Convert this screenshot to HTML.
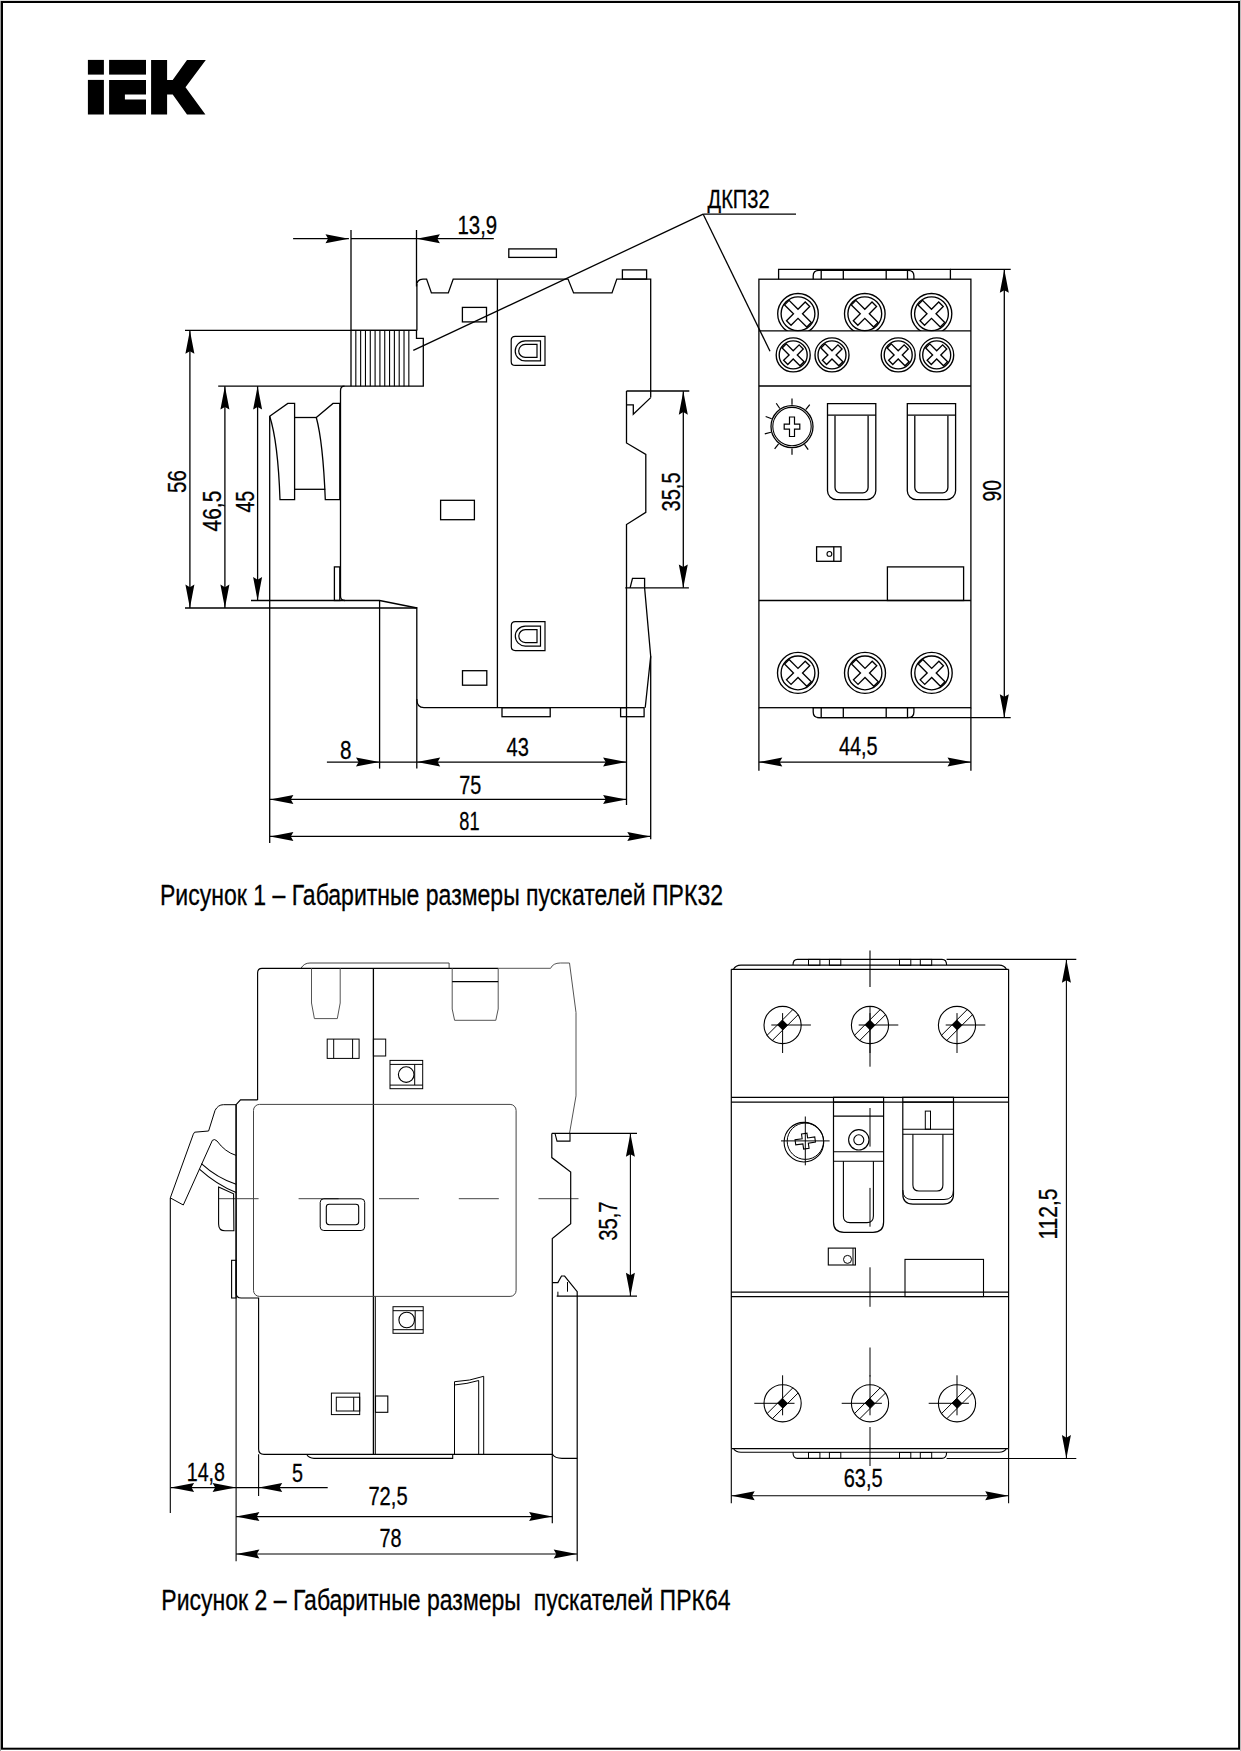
<!DOCTYPE html>
<html><head><meta charset="utf-8"><style>
html,body{margin:0;padding:0;background:#fff;}
svg{display:block;}
text{font-family:"Liberation Sans",sans-serif;fill:#000;stroke:#000;stroke-width:0.3px;}
</style></head><body>
<svg width="1241" height="1751" viewBox="0 0 1241 1751">
<defs>
<clipPath id="c1"><rect x="700" y="260" width="300" height="70.9"/></clipPath>
</defs>
<g stroke="#000" stroke-width="1.3" fill="none" stroke-linejoin="miter" stroke-linecap="butt">
<rect x="2" y="2" width="1237.1" height="1746.7" stroke-width="2"/>
<line x1="0.5" y1="0" x2="0.5" y2="1751" stroke="#999" stroke-width="1"/>
<line x1="0" y1="0.5" x2="1241" y2="0.5" stroke="#ddd" stroke-width="1"/>
<line x1="1240.5" y1="0" x2="1240.5" y2="1751" stroke="#bbb" stroke-width="1"/>
<g fill="#000" stroke="none">
<rect x="87.9" y="59.9" width="16" height="14.7"/>
<rect x="87.9" y="79.9" width="16" height="34.6"/>
<rect x="109.1" y="59.9" width="36.9" height="14.7"/>
<path d="M109.1,79.9 L146,79.9 L146,94.6 L124.9,94.6 L124.9,99.6 L146,99.6 L146,114.5 L109.1,114.5 Z"/>
<path d="M151.1,59.9 L167.1,59.9 L167.1,79.9 L172.7,79.9 L187,59.9 L205.8,59.9 L185.5,87.2 L205.4,114.5 L187,114.5 L172.7,94.6 L167.1,94.6 L167.1,114.5 L151.1,114.5 Z"/>
</g>
<line x1="293.1" y1="238.7" x2="348.9" y2="238.7"/>
<path d="M348.9,238.7 L325.5,243.2 L328.1,238.7 L325.5,234.2 Z" fill="#000" stroke="none"/>
<line x1="351" y1="238.7" x2="416.5" y2="238.7"/>
<line x1="416.5" y1="238.7" x2="493.8" y2="238.7"/>
<path d="M416.5,238.7 L439.9,234.2 L437.3,238.7 L439.9,243.2 Z" fill="#000" stroke="none"/>
<line x1="351" y1="230" x2="351" y2="330.4"/>
<text x="457.5" y="234.4" font-size="25.8" textLength="39.7" lengthAdjust="spacingAndGlyphs">13,9</text>
<path d="M416.5,230 L416.5,286.5 Q416.5,279.1 423,279.1 L426.6,279.1 L431.4,292.9 L448.3,292.9 L453.2,279.1 L568,279.1 L573.6,292.9 L612,292.9 L616.8,279.1 L650.7,279.1 L650.7,397.6" fill="none"/>
<rect x="622.4" y="269.9" width="24.2" height="9.2" fill="none"/>
<rect x="508.8" y="248.9" width="47.6" height="8.5" fill="none"/>
<rect x="462.4" y="307.4" width="24.1" height="14.5" fill="none"/>
<line x1="497.4" y1="279.1" x2="497.4" y2="707.7"/>
<path d="M515.2,336.4 L545,336.4 L545,365.4 L515.2,365.4 Q511.2,365.4 511.2,361.4 L511.2,340.4 Q511.2,336.4 515.2,336.4 Z" fill="none" stroke-width="1.2"/>
<path d="M540.5,340.9 L540.5,360.9 L525.2,360.9 L525.2,360.9 A10,10 0 0 1 525.2,340.9 Z" fill="none" stroke-width="1.2"/>
<path d="M537,344.4 L537,357.4 L525.2,357.4 A6.5,6.5 0 0 1 525.2,344.4 Z" fill="none" stroke-width="1.2"/>
<path d="M515.3,621.6 L545,621.6 L545,650.6 L515.3,650.6 Q511.3,650.6 511.3,646.6 L511.3,625.6 Q511.3,621.6 515.3,621.6 Z" fill="none" stroke-width="1.2"/>
<path d="M540.5,626.1 L540.5,646.1 L525.3,646.1 L525.3,646.1 A10,10 0 0 1 525.3,626.1 Z" fill="none" stroke-width="1.2"/>
<path d="M537,629.6 L537,642.6 L525.3,642.6 A6.5,6.5 0 0 1 525.3,629.6 Z" fill="none" stroke-width="1.2"/>
<rect x="440.6" y="500.3" width="33.8" height="19.4" fill="none"/>
<rect x="462.5" y="670.7" width="24.3" height="14.5" fill="none"/>
<line x1="626.5" y1="391" x2="689.3" y2="391"/>
<path d="M626.5,391 L626.5,443 L645.8,454.4 L645.8,512.4 L626.5,524.5 L626.5,804.9" fill="none"/>
<path d="M626.5,404.8 L633.3,404.8 L633.3,414.3 L650.7,397.6" fill="none"/>
<path d="M630.1,587.8 L632.5,578.4 L644.6,578.4 L644.6,587.8" fill="none"/>
<line x1="625.3" y1="587.8" x2="688.9" y2="587.8"/>
<path d="M644.6,587.8 L650.7,656.2 L645.2,707.7" fill="none"/>
<line x1="650.7" y1="656.2" x2="650.7" y2="839.3"/>
<line x1="683.3" y1="391.3" x2="683.3" y2="587.8"/>
<path d="M683.3,391.3 L687.8,414.7 L683.3,412.1 L678.8,414.7 Z" fill="#000" stroke="none"/>
<path d="M683.3,587.8 L678.8,564.4 L683.3,567 L687.8,564.4 Z" fill="#000" stroke="none"/>
<text transform="translate(679.8,511.5) rotate(-90)" x="0" y="0" font-size="25.8" textLength="39.1" lengthAdjust="spacingAndGlyphs">35,5</text>
<path d="M351,330.4 L416.5,330.4 L416.5,338.3 L423.3,338.3 L423.3,386.2 L351,386.2" fill="none"/>
<line x1="355.82" y1="330.4" x2="355.82" y2="386.2" stroke-width="1.1"/>
<line x1="360.64" y1="330.4" x2="360.64" y2="386.2" stroke-width="1.1"/>
<line x1="365.46" y1="330.4" x2="365.46" y2="386.2" stroke-width="1.1"/>
<line x1="370.28" y1="330.4" x2="370.28" y2="386.2" stroke-width="1.1"/>
<line x1="375.1" y1="330.4" x2="375.1" y2="386.2" stroke-width="1.1"/>
<line x1="379.92" y1="330.4" x2="379.92" y2="386.2" stroke-width="1.1"/>
<line x1="384.74" y1="330.4" x2="384.74" y2="386.2" stroke-width="1.1"/>
<line x1="389.56" y1="330.4" x2="389.56" y2="386.2" stroke-width="1.1"/>
<line x1="394.38" y1="330.4" x2="394.38" y2="386.2" stroke-width="1.1"/>
<line x1="399.2" y1="330.4" x2="399.2" y2="386.2" stroke-width="1.1"/>
<line x1="404.02" y1="330.4" x2="404.02" y2="386.2" stroke-width="1.1"/>
<line x1="408.84" y1="330.4" x2="408.84" y2="386.2" stroke-width="1.1"/>
<line x1="185" y1="330.4" x2="416.5" y2="330.4"/>
<line x1="351" y1="330.4" x2="351" y2="386.2"/>
<line x1="218.2" y1="386.2" x2="351" y2="386.2"/>
<path d="M344.5,386.2 Q340.5,386.2 340.5,391 L340.5,596 Q340.5,600.5 345,600.5" fill="none"/>
<path d="M269.7,416.3 L287.8,403.4 L294.6,403.4 L294.6,499.7 L280,499.7 Q278,442 269.7,416.3 Z" fill="none"/>
<line x1="294.6" y1="417.5" x2="316.3" y2="417.5"/>
<line x1="294.6" y1="489.3" x2="325.3" y2="489.3"/>
<path d="M316.3,417.5 L333,403.4 L339.8,403.4 L339.8,499.7 L325.3,499.7 Q323,442 316.3,417.5 Z" fill="none"/>
<rect x="334.4" y="566.9" width="5.4" height="33.6" fill="none"/>
<line x1="269.7" y1="416.3" x2="269.7" y2="843"/>
<path d="M251,600.5 L379.6,600.5 L417.1,608" fill="none"/>
<line x1="185" y1="608" x2="417.1" y2="608"/>
<line x1="379.6" y1="600.5" x2="379.6" y2="768.6"/>
<path d="M416.8,607.3 L416.8,699 Q416.8,707.7 424,707.7 L626.5,707.7" fill="none"/>
<line x1="416.8" y1="699" x2="416.8" y2="768.6"/>
<rect x="502" y="707.7" width="48.2" height="9" fill="none"/>
<rect x="620.6" y="707.7" width="23.5" height="9" fill="none"/>
<line x1="189.9" y1="330.4" x2="189.9" y2="608"/>
<path d="M189.9,330.4 L194.4,353.8 L189.9,351.2 L185.4,353.8 Z" fill="#000" stroke="none"/>
<path d="M189.9,608 L185.4,584.6 L189.9,587.2 L194.4,584.6 Z" fill="#000" stroke="none"/>
<text transform="translate(186.2,492.9) rotate(-90)" x="0" y="0" font-size="25.8" textLength="22.8" lengthAdjust="spacingAndGlyphs">56</text>
<line x1="224.9" y1="386.2" x2="224.9" y2="608"/>
<path d="M224.9,386.2 L229.4,409.6 L224.9,407 L220.4,409.6 Z" fill="#000" stroke="none"/>
<path d="M224.9,608 L220.4,584.6 L224.9,587.2 L229.4,584.6 Z" fill="#000" stroke="none"/>
<text transform="translate(220.9,531.5) rotate(-90)" x="0" y="0" font-size="25.8" textLength="40.8" lengthAdjust="spacingAndGlyphs">46,5</text>
<line x1="257.6" y1="386.2" x2="257.6" y2="600.5"/>
<path d="M257.6,386.2 L262.1,409.6 L257.6,407 L253.1,409.6 Z" fill="#000" stroke="none"/>
<path d="M257.6,600.5 L253.1,577.1 L257.6,579.7 L262.1,577.1 Z" fill="#000" stroke="none"/>
<text transform="translate(253.5,512.5) rotate(-90)" x="0" y="0" font-size="25.8" textLength="21.7" lengthAdjust="spacingAndGlyphs">45</text>
<line x1="326.9" y1="762.1" x2="379.4" y2="762.1"/>
<path d="M379.4,762.1 L356,766.6 L358.6,762.1 L356,757.6 Z" fill="#000" stroke="none"/>
<line x1="379.4" y1="762.1" x2="416.8" y2="762.1"/>
<text x="340.1" y="758.6" font-size="25.8" textLength="11.5" lengthAdjust="spacingAndGlyphs">8</text>
<line x1="416.8" y1="762.1" x2="626.5" y2="762.1"/>
<path d="M416.8,762.1 L440.2,757.6 L437.6,762.1 L440.2,766.6 Z" fill="#000" stroke="none"/>
<path d="M626.5,762.1 L603.1,766.6 L605.7,762.1 L603.1,757.6 Z" fill="#000" stroke="none"/>
<text x="506.6" y="755.9" font-size="25.8" textLength="22.3" lengthAdjust="spacingAndGlyphs">43</text>
<line x1="270" y1="799.4" x2="626.5" y2="799.4"/>
<path d="M270,799.4 L293.4,794.9 L290.8,799.4 L293.4,803.9 Z" fill="#000" stroke="none"/>
<path d="M626.5,799.4 L603.1,803.9 L605.7,799.4 L603.1,794.9 Z" fill="#000" stroke="none"/>
<text x="459.3" y="793.6" font-size="25.8" textLength="22" lengthAdjust="spacingAndGlyphs">75</text>
<line x1="270" y1="836.4" x2="650.7" y2="836.4"/>
<path d="M270,836.4 L293.4,831.9 L290.8,836.4 L293.4,840.9 Z" fill="#000" stroke="none"/>
<path d="M650.7,836.4 L627.3,840.9 L629.9,836.4 L627.3,831.9 Z" fill="#000" stroke="none"/>
<text x="459.3" y="829.7" font-size="25.8" textLength="20.2" lengthAdjust="spacingAndGlyphs">81</text>
<line x1="413.3" y1="350.4" x2="703.2" y2="214.2"/>
<line x1="703.2" y1="214.2" x2="770" y2="351.2"/>
<line x1="703.2" y1="214.2" x2="796" y2="214.2"/>
<text x="707.6" y="208.4" font-size="25.8" textLength="62" lengthAdjust="spacingAndGlyphs">ДКП32</text>
<rect x="758.9" y="279.2" width="212" height="428.5" fill="none"/>
<line x1="758.9" y1="330.9" x2="970.9" y2="330.9"/>
<line x1="758.9" y1="386" x2="970.9" y2="386"/>
<line x1="758.9" y1="600.5" x2="970.9" y2="600.5"/>
<path d="M778.6,279.2 L778.6,269.4 L950.4,269.4 L950.4,279.2" fill="none"/>
<path d="M813.2,279.2 L813.2,276 Q813.2,270.3 819,270.3 L908,270.3 Q913.9,270.3 913.9,276 L913.9,279.2" fill="none"/>
<line x1="821.2" y1="269.4" x2="821.2" y2="279.2"/>
<line x1="843.3" y1="269.4" x2="843.3" y2="279.2"/>
<line x1="886.2" y1="269.4" x2="886.2" y2="279.2"/>
<line x1="907.5" y1="269.4" x2="907.5" y2="279.2"/>
<line x1="950.4" y1="269.4" x2="1010.7" y2="269.4"/>
<path d="M813.2,707.7 L813.2,712 Q813.2,717.6 819,717.6 L908,717.6 Q913.9,717.6 913.9,712 L913.9,707.7" fill="none"/>
<line x1="821.2" y1="707.7" x2="821.2" y2="717.6"/>
<line x1="843.3" y1="707.7" x2="843.3" y2="717.6"/>
<line x1="886.2" y1="707.7" x2="886.2" y2="717.6"/>
<line x1="907.5" y1="707.7" x2="907.5" y2="717.6"/>
<line x1="812.5" y1="707.7" x2="913.6" y2="707.7"/>
<line x1="817" y1="717.6" x2="1010.7" y2="717.6"/>
<line x1="758.9" y1="707.7" x2="758.9" y2="770.8"/>
<line x1="970.9" y1="707.7" x2="970.9" y2="770.8"/>
<circle cx="798" cy="313.8" r="20.3" fill="none" stroke-width="1.35" clip-path="url(#c1)"/>
<circle cx="798" cy="313.8" r="16.9" fill="none" stroke-width="1.35"/>
<path d="M811.29,322.57 L806.77,327.09 L798,318.33 L791.03,325.29 L786.51,320.77 L793.47,313.8 L784.56,304.89 L789.09,300.36 L798,309.27 L805.21,302.06 L809.74,306.59 L802.53,313.8 Z" fill="none" stroke-width="1.35"/>
<circle cx="864.8" cy="313.8" r="20.3" fill="none" stroke-width="1.35" clip-path="url(#c1)"/>
<circle cx="864.8" cy="313.8" r="16.9" fill="none" stroke-width="1.35"/>
<path d="M878.09,322.57 L873.57,327.09 L864.8,318.33 L857.83,325.29 L853.31,320.77 L860.27,313.8 L851.36,304.89 L855.89,300.36 L864.8,309.27 L872.01,302.06 L876.54,306.59 L869.33,313.8 Z" fill="none" stroke-width="1.35"/>
<circle cx="931.5" cy="313.8" r="20.3" fill="none" stroke-width="1.35" clip-path="url(#c1)"/>
<circle cx="931.5" cy="313.8" r="16.9" fill="none" stroke-width="1.35"/>
<path d="M944.79,322.57 L940.27,327.09 L931.5,318.33 L924.53,325.29 L920.01,320.77 L926.97,313.8 L918.06,304.89 L922.59,300.36 L931.5,309.27 L938.71,302.06 L943.24,306.59 L936.03,313.8 Z" fill="none" stroke-width="1.35"/>
<circle cx="793.2" cy="354.9" r="17" fill="none" stroke-width="1.35"/>
<circle cx="793.2" cy="354.9" r="14" fill="none" stroke-width="1.35"/>
<path d="M804.09,361.69 L799.99,365.79 L793.2,359 L787.76,364.45 L783.65,360.34 L789.1,354.9 L782.17,347.97 L786.27,343.87 L793.2,350.8 L799.14,344.86 L803.24,348.96 L797.3,354.9 Z" fill="none" stroke-width="1.35"/>
<circle cx="832" cy="354.9" r="17" fill="none" stroke-width="1.35"/>
<circle cx="832" cy="354.9" r="14" fill="none" stroke-width="1.35"/>
<path d="M842.89,361.69 L838.79,365.79 L832,359 L826.56,364.45 L822.45,360.34 L827.9,354.9 L820.97,347.97 L825.07,343.87 L832,350.8 L837.94,344.86 L842.04,348.96 L836.1,354.9 Z" fill="none" stroke-width="1.35"/>
<circle cx="898.2" cy="354.9" r="17" fill="none" stroke-width="1.35"/>
<circle cx="898.2" cy="354.9" r="14" fill="none" stroke-width="1.35"/>
<path d="M909.09,361.69 L904.99,365.79 L898.2,359 L892.76,364.45 L888.65,360.34 L894.1,354.9 L887.17,347.97 L891.27,343.87 L898.2,350.8 L904.14,344.86 L908.24,348.96 L902.3,354.9 Z" fill="none" stroke-width="1.35"/>
<circle cx="936.7" cy="354.9" r="17" fill="none" stroke-width="1.35"/>
<circle cx="936.7" cy="354.9" r="14" fill="none" stroke-width="1.35"/>
<path d="M947.59,361.69 L943.49,365.79 L936.7,359 L931.26,364.45 L927.15,360.34 L932.6,354.9 L925.67,347.97 L929.77,343.87 L936.7,350.8 L942.64,344.86 L946.74,348.96 L940.8,354.9 Z" fill="none" stroke-width="1.35"/>
<circle cx="798" cy="672.9" r="20.5" fill="none" stroke-width="1.35"/>
<circle cx="798" cy="672.9" r="16.9" fill="none" stroke-width="1.35"/>
<path d="M811.29,681.67 L806.77,686.19 L798,677.43 L791.03,684.39 L786.51,679.87 L793.47,672.9 L784.56,663.99 L789.09,659.46 L798,668.37 L805.21,661.16 L809.74,665.69 L802.53,672.9 Z" fill="none" stroke-width="1.35"/>
<circle cx="865" cy="672.9" r="20.5" fill="none" stroke-width="1.35"/>
<circle cx="865" cy="672.9" r="16.9" fill="none" stroke-width="1.35"/>
<path d="M878.29,681.67 L873.77,686.19 L865,677.43 L858.03,684.39 L853.51,679.87 L860.47,672.9 L851.56,663.99 L856.09,659.46 L865,668.37 L872.21,661.16 L876.74,665.69 L869.53,672.9 Z" fill="none" stroke-width="1.35"/>
<circle cx="931.7" cy="672.9" r="20.5" fill="none" stroke-width="1.35"/>
<circle cx="931.7" cy="672.9" r="16.9" fill="none" stroke-width="1.35"/>
<path d="M944.99,681.67 L940.47,686.19 L931.7,677.43 L924.73,684.39 L920.21,679.87 L927.17,672.9 L918.26,663.99 L922.79,659.46 L931.7,668.37 L938.91,661.16 L943.44,665.69 L936.23,672.9 Z" fill="none" stroke-width="1.35"/>
<circle cx="792" cy="426.6" r="21" fill="none" stroke-width="1.3"/>
<circle cx="792" cy="426.6" r="19.2" fill="none" stroke-width="1.1"/>
<path d="M789.5,417 L794.5,417 L794.5,424.2 L799.8,424.2 L799.8,429.2 L794.5,429.2 L794.5,436.5 L789.5,436.5 L789.5,429.2 L784.2,429.2 L784.2,424.2 L789.5,424.2 Z" fill="none" stroke-width="1.2"/>
<line x1="792" y1="404.8" x2="792" y2="398.4" stroke-width="1.2"/>
<line x1="805.72" y1="409.66" x2="809.75" y2="404.68" stroke-width="1.2"/>
<line x1="779.81" y1="408.53" x2="776.23" y2="403.22" stroke-width="1.2"/>
<line x1="771.65" y1="418.79" x2="765.67" y2="416.49" stroke-width="1.2"/>
<line x1="770.94" y1="432.24" x2="764.76" y2="433.9" stroke-width="1.2"/>
<line x1="778.58" y1="443.78" x2="774.64" y2="448.82" stroke-width="1.2"/>
<line x1="792" y1="448.4" x2="792" y2="454.8" stroke-width="1.2"/>
<line x1="804.5" y1="444.46" x2="808.17" y2="449.7" stroke-width="1.2"/>
<path d="M827.5,403.7 L875.8,403.7 L875.8,490.7 A9,9 0 0 1 866.8,499.7 L836.5,499.7 A9,9 0 0 1 827.5,490.7 Z" fill="none"/>
<line x1="827.5" y1="415.2" x2="875.8" y2="415.2"/>
<path d="M835,415.8 L835,487.6 A5.3,5.3 0 0 0 840.3,492.9 L862.8,492.9 A5.3,5.3 0 0 0 868.1,487.6 L868.1,415.8" fill="none"/>
<path d="M907.3,403.7 L955.6,403.7 L955.6,490.7 A9,9 0 0 1 946.6,499.7 L916.3,499.7 A9,9 0 0 1 907.3,490.7 Z" fill="none"/>
<line x1="907.3" y1="415.2" x2="955.6" y2="415.2"/>
<path d="M914.8,415.8 L914.8,487.6 A5.3,5.3 0 0 0 920.1,492.9 L942.6,492.9 A5.3,5.3 0 0 0 947.9,487.6 L947.9,415.8" fill="none"/>
<rect x="816.6" y="546.8" width="24.4" height="14.5" fill="none"/>
<line x1="833.8" y1="546.8" x2="833.8" y2="561.3"/>
<circle cx="829.4" cy="553.9" r="2.4" fill="none" stroke-width="1.1"/>
<rect x="887.4" y="566.9" width="76.2" height="33.6" fill="none"/>
<line x1="758.9" y1="762.1" x2="970.9" y2="762.1"/>
<path d="M758.9,762.1 L782.3,757.6 L779.7,762.1 L782.3,766.6 Z" fill="#000" stroke="none"/>
<path d="M970.9,762.1 L947.5,766.6 L950.1,762.1 L947.5,757.6 Z" fill="#000" stroke="none"/>
<text x="838.9" y="754.9" font-size="25.8" textLength="38.7" lengthAdjust="spacingAndGlyphs">44,5</text>
<line x1="1004.3" y1="269.4" x2="1004.3" y2="717.6"/>
<path d="M1004.3,269.4 L1008.8,292.8 L1004.3,290.2 L999.8,292.8 Z" fill="#000" stroke="none"/>
<path d="M1004.3,717.6 L999.8,694.2 L1004.3,696.8 L1008.8,694.2 Z" fill="#000" stroke="none"/>
<text transform="translate(1000.8,501.5) rotate(-90)" x="0" y="0" font-size="25.8" textLength="21.4" lengthAdjust="spacingAndGlyphs">90</text>
<text x="160" y="905.3" font-size="29.5" textLength="563" lengthAdjust="spacingAndGlyphs">Рисунок 1 – Габаритные размеры пускателей ПРК32</text>
<text x="161.3" y="1610" font-size="29.5" textLength="569.2" lengthAdjust="spacingAndGlyphs">Рисунок 2 – Габаритные размеры&#160; пускателей ПРК64</text>
<g stroke="#444">
<path d="M301,968.3 Q304,963 310,963 L449.1,963 L449.1,968.3" fill="none" stroke-width="1"/>
</g>
<path d="M257.6,1099.9 L257.6,973 Q257.6,968.3 262,968.3 L498.2,968.3" fill="none" stroke-width="1.15"/>
<g stroke="#555">
<path d="M498.2,968.3 L550.6,968.3 Q553,963 560.3,963 L569.5,963 L576,1012.5 L576,1095.9 L569.5,1133.4" fill="none" stroke-width="1"/>
</g>
<path d="M257.6,1099.9 L240.5,1099.9 L236.1,1104.7 L236.1,1293 Q236.1,1298 241.2,1298 L258.6,1298 L258.6,1449 Q258.6,1454.3 264,1454.3 L552.5,1454.3" fill="none" stroke-width="1.15"/>
<g stroke="#555">
<path d="M311.5,968.3 L311.5,1003 L314.4,1018.6 L337.3,1018.6 L340.2,1003 L340.2,968.3" fill="none" stroke-width="1"/>
</g>
<g stroke="#555">
<path d="M452.2,968.3 L452.2,1009 L454.6,1020.3 L495.8,1020.3 L498.2,1009 L498.2,968.3" fill="none" stroke-width="1"/>
</g>
<line x1="452.2" y1="981.6" x2="498.2" y2="981.6" stroke-width="1.1"/>
<line x1="373.4" y1="968.3" x2="373.4" y2="1454.3" stroke-width="1.3"/>
<line x1="375.3" y1="1296.4" x2="375.3" y2="1454.3" stroke-width="1"/>
<rect x="327.2" y="1039.1" width="31.9" height="19.3" stroke-width="1" fill="none"/>
<line x1="333.7" y1="1039.1" x2="333.7" y2="1058.4" stroke-width="1"/>
<line x1="352.6" y1="1039.1" x2="352.6" y2="1058.4" stroke-width="1"/>
<rect x="373.4" y="1039.1" width="12.3" height="16.9" stroke-width="1" fill="none"/>
<rect x="390" y="1060.4" width="32.7" height="28.3" stroke-width="1" fill="none"/>
<line x1="390" y1="1064.4" x2="422.7" y2="1064.4" stroke-width="1"/>
<line x1="390" y1="1085.1" x2="422.7" y2="1085.1" stroke-width="1"/>
<line x1="414.7" y1="1064.4" x2="414.7" y2="1085.1" stroke-width="1"/>
<circle cx="406.2" cy="1074.55" r="7.8" fill="none" stroke-width="1.1"/>
<rect x="393" y="1306.7" width="30.2" height="26.6" stroke-width="1" fill="none"/>
<line x1="393" y1="1310.7" x2="423.2" y2="1310.7" stroke-width="1"/>
<line x1="393" y1="1329.7" x2="423.2" y2="1329.7" stroke-width="1"/>
<line x1="415.2" y1="1310.7" x2="415.2" y2="1329.7" stroke-width="1"/>
<circle cx="406.7" cy="1320" r="7.8" fill="none" stroke-width="1.1"/>
<g stroke="#444">
<rect x="253.5" y="1104.4" width="262.6" height="192" stroke-width="1" rx="6" fill="none"/>
</g>
<g stroke="#444">
<line x1="218.6" y1="1198.7" x2="258.6" y2="1198.7" stroke-width="1"/>
<line x1="298.6" y1="1198.7" x2="338.6" y2="1198.7" stroke-width="1"/>
<line x1="379" y1="1198.7" x2="419" y2="1198.7" stroke-width="1"/>
<line x1="458.8" y1="1198.7" x2="498.8" y2="1198.7" stroke-width="1"/>
<line x1="538.5" y1="1198.7" x2="578.5" y2="1198.7" stroke-width="1"/>
</g>
<path d="M236.1,1104.7 L223.4,1104.7 Q218,1104.7 215,1110.5 L208.6,1131 L194.6,1132.2 L193.3,1134.2 L170.3,1197.9 L183.3,1205 L212.4,1140.3 Q214.5,1138.5 217,1141 Q225,1152 236.1,1155.4" fill="none" stroke-width="1"/>
<path d="M201.4,1163.6 Q217,1178 236.1,1184.2" fill="none" stroke-width="1.1"/>
<path d="M199.4,1169.1 Q217,1185 236.1,1192.4" fill="none" stroke-width="1.1"/>
<path d="M218.6,1187 L233.6,1193.8 L233.9,1230.8 L225,1230.8 Q218.6,1230.8 218.6,1224 Z" fill="none" stroke-width="1.1"/>
<line x1="170.3" y1="1197.9" x2="170.3" y2="1513" stroke-width="1.1"/>
<line x1="236.1" y1="1104.7" x2="236.1" y2="1561.2" stroke-width="1.1"/>
<rect x="231.6" y="1260.3" width="4.5" height="37.7" stroke-width="1.1" fill="none"/>
<rect x="331.4" y="1393.1" width="28.3" height="21.5" stroke-width="1" fill="none"/>
<rect x="336.3" y="1397.2" width="23.4" height="13.8" stroke-width="1" fill="none"/>
<line x1="353.7" y1="1397.2" x2="353.7" y2="1411" stroke-width="1"/>
<rect x="375.5" y="1396" width="12.3" height="16.3" stroke-width="1.1" fill="none"/>
<path d="M454.5,1454.3 L454.5,1381.7 Q470,1381 483.7,1376.3 L483.7,1454.3" fill="none" stroke-width="1"/>
<path d="M455,1384.9 Q467,1384 478.7,1380.5 L478.7,1454.3" fill="none" stroke-width="1"/>
<path d="M306.6,1454.3 Q309,1458.4 314,1458.4 L452.7,1458.4 L452.7,1454.3" fill="none" stroke-width="1.1"/>
<path d="M551.8,1133.4 L551.8,1157.6 L570.7,1172 L570.7,1223.6 L552.3,1238.6 L552.3,1523.2" fill="none" stroke-width="1.2"/>
<path d="M555,1133.4 L557,1141.1 L570,1141.1 L570,1133.4" fill="none" stroke-width="1.1"/>
<path d="M552.3,1282.6 L557.9,1282.6 L561.5,1276 L564.6,1276 L577.2,1291.7 L577.2,1561.2" fill="none" stroke-width="1.2"/>
<line x1="557.9" y1="1291.7" x2="557.9" y2="1296.1" stroke-width="1"/>
<line x1="567.5" y1="1282" x2="567.5" y2="1291.7" stroke-width="1"/>
<path d="M552.5,1454.3 Q555,1458.4 562,1458.4 L577.3,1458.4" fill="none" stroke-width="1.1"/>
<line x1="551.8" y1="1133.4" x2="637" y2="1133.4" stroke-width="1.1"/>
<line x1="556.7" y1="1296.1" x2="637" y2="1296.1" stroke-width="1.1"/>
<line x1="630.4" y1="1133.4" x2="630.4" y2="1296.1" stroke-width="1.1"/>
<path d="M630.4,1133.4 L634.9,1156.8 L630.4,1154.2 L625.9,1156.8 Z" fill="#000" stroke="none"/>
<path d="M630.4,1296.1 L625.9,1272.7 L630.4,1275.3 L634.9,1272.7 Z" fill="#000" stroke="none"/>
<text transform="translate(616.8,1240.7) rotate(-90)" x="0" y="0" font-size="25.8" textLength="39.3" lengthAdjust="spacingAndGlyphs">35,7</text>
<line x1="170.7" y1="1487.6" x2="327.7" y2="1487.6" stroke-width="1.1"/>
<path d="M170.7,1487.6 L194.1,1483.1 L191.5,1487.6 L194.1,1492.1 Z" fill="#000" stroke="none"/>
<path d="M236,1487.6 L212.6,1492.1 L215.2,1487.6 L212.6,1483.1 Z" fill="#000" stroke="none"/>
<path d="M258.8,1487.6 L282.2,1483.1 L279.6,1487.6 L282.2,1492.1 Z" fill="#000" stroke="none"/>
<line x1="258.6" y1="1454.3" x2="258.6" y2="1496" stroke-width="1.1"/>
<text x="186.8" y="1480.7" font-size="25.8" textLength="38.2" lengthAdjust="spacingAndGlyphs">14,8</text>
<text x="292.1" y="1481.7" font-size="25.8" textLength="11" lengthAdjust="spacingAndGlyphs">5</text>
<line x1="236" y1="1516.6" x2="552.5" y2="1516.6" stroke-width="1.1"/>
<path d="M236,1516.6 L259.4,1512.1 L256.8,1516.6 L259.4,1521.1 Z" fill="#000" stroke="none"/>
<path d="M552.5,1516.6 L529.1,1521.1 L531.7,1516.6 L529.1,1512.1 Z" fill="#000" stroke="none"/>
<text x="368.4" y="1504.7" font-size="25.8" textLength="39.2" lengthAdjust="spacingAndGlyphs">72,5</text>
<line x1="236" y1="1554" x2="577.1" y2="1554" stroke-width="1.1"/>
<path d="M236,1554 L259.4,1549.5 L256.8,1554 L259.4,1558.5 Z" fill="#000" stroke="none"/>
<path d="M577.1,1554 L553.7,1558.5 L556.3,1554 L553.7,1549.5 Z" fill="#000" stroke="none"/>
<text x="379.6" y="1547" font-size="25.8" textLength="22" lengthAdjust="spacingAndGlyphs">78</text>
<line x1="731.3" y1="969.3" x2="731.3" y2="1448.6" stroke-width="1.2"/>
<line x1="1008.6" y1="969.3" x2="1008.6" y2="1448.6" stroke-width="1.2"/>
<line x1="731.3" y1="969.3" x2="1008.6" y2="969.3" stroke-width="1.2"/>
<path d="M733.5,969.3 Q735.5,965.1 741,965.1 L999,965.1 Q1004.5,965.1 1006.4,969.3" fill="none" stroke-width="1.1"/>
<line x1="731.3" y1="1448.6" x2="1008.6" y2="1448.6" stroke-width="1.2"/>
<path d="M733.5,1448.6 Q735.5,1452.3 741,1452.3 L999,1452.3 Q1004.5,1452.3 1006.4,1448.6" fill="none" stroke-width="1.1"/>
<path d="M793,965.1 Q793,959.4 797.5,959.4 L942,959.4 Q946.6,959.4 946.6,965.1" fill="none" stroke-width="1.1"/>
<path d="M793,1452.3 Q793,1458.4 797.5,1458.4 L942,1458.4 Q946.6,1458.4 946.6,1452.3" fill="none" stroke-width="1.1"/>
<rect x="808.5" y="959.4" width="11.4" height="5.9" stroke-width="1" fill="none"/>
<rect x="808.5" y="1452.5" width="11.4" height="6" stroke-width="1" fill="none"/>
<rect x="829.4" y="959.4" width="11.4" height="5.9" stroke-width="1" fill="none"/>
<rect x="829.4" y="1452.5" width="11.4" height="6" stroke-width="1" fill="none"/>
<rect x="899.5" y="959.4" width="11.3" height="5.9" stroke-width="1" fill="none"/>
<rect x="899.5" y="1452.5" width="11.3" height="6" stroke-width="1" fill="none"/>
<rect x="920.3" y="959.4" width="11.4" height="5.9" stroke-width="1" fill="none"/>
<rect x="920.3" y="1452.5" width="11.4" height="6" stroke-width="1" fill="none"/>
<line x1="946.6" y1="959.4" x2="1076.3" y2="959.4" stroke-width="1.1"/>
<line x1="946.6" y1="1458.5" x2="1076.3" y2="1458.5" stroke-width="1.1"/>
<line x1="870" y1="950.4" x2="870" y2="987.1" stroke-width="1.1"/>
<line x1="1066.4" y1="959.4" x2="1066.4" y2="1458.5" stroke-width="1.1"/>
<path d="M1066.4,959.4 L1070.9,982.8 L1066.4,980.2 L1061.9,982.8 Z" fill="#000" stroke="none"/>
<path d="M1066.4,1458.5 L1061.9,1435.1 L1066.4,1437.7 L1070.9,1435.1 Z" fill="#000" stroke="none"/>
<text transform="translate(1056.9,1239.5) rotate(-90)" x="0" y="0" font-size="25.8" textLength="51" lengthAdjust="spacingAndGlyphs">112,5</text>
<line x1="731.3" y1="1097.4" x2="1008.6" y2="1097.4" stroke-width="1.1"/>
<line x1="731.3" y1="1102.1" x2="1008.6" y2="1102.1" stroke-width="1.1"/>
<line x1="731.3" y1="1292.1" x2="1008.6" y2="1292.1" stroke-width="1.1"/>
<line x1="731.3" y1="1296.6" x2="1008.6" y2="1296.6" stroke-width="1.1"/>
<circle cx="782.6" cy="1025" r="18.6" fill="none" stroke-width="1.1"/>
<line x1="767.11" y1="1035.29" x2="792.89" y2="1009.51" stroke-width="1"/>
<line x1="772.31" y1="1040.49" x2="798.09" y2="1014.71" stroke-width="1"/>
<path d="M782.6,1019.8 L787.8,1025 L782.6,1030.2 L777.4,1025 Z" fill="#000" stroke="none"/>
<line x1="771.3" y1="1025" x2="810.9" y2="1025" stroke-width="1"/>
<line x1="782.6" y1="1013.1" x2="782.6" y2="1053" stroke-width="1"/>
<circle cx="870" cy="1025" r="18.6" fill="none" stroke-width="1.1"/>
<line x1="854.51" y1="1035.29" x2="880.29" y2="1009.51" stroke-width="1"/>
<line x1="859.71" y1="1040.49" x2="885.49" y2="1014.71" stroke-width="1"/>
<path d="M870,1019.8 L875.2,1025 L870,1030.2 L864.8,1025 Z" fill="#000" stroke="none"/>
<line x1="858.7" y1="1025" x2="898.3" y2="1025" stroke-width="1"/>
<line x1="870" y1="1013.1" x2="870" y2="1053" stroke-width="1"/>
<circle cx="957" cy="1025" r="18.6" fill="none" stroke-width="1.1"/>
<line x1="941.51" y1="1035.29" x2="967.29" y2="1009.51" stroke-width="1"/>
<line x1="946.71" y1="1040.49" x2="972.49" y2="1014.71" stroke-width="1"/>
<path d="M957,1019.8 L962.2,1025 L957,1030.2 L951.8,1025 Z" fill="#000" stroke="none"/>
<line x1="945.7" y1="1025" x2="985.3" y2="1025" stroke-width="1"/>
<line x1="957" y1="1013.1" x2="957" y2="1053" stroke-width="1"/>
<circle cx="782.6" cy="1403.3" r="18.6" fill="none" stroke-width="1.1"/>
<line x1="767.11" y1="1413.59" x2="792.89" y2="1387.81" stroke-width="1"/>
<line x1="772.31" y1="1418.79" x2="798.09" y2="1393.01" stroke-width="1"/>
<path d="M782.6,1398.1 L787.8,1403.3 L782.6,1408.5 L777.4,1403.3 Z" fill="#000" stroke="none"/>
<line x1="754.3" y1="1403.3" x2="794.5" y2="1403.3" stroke-width="1"/>
<line x1="782.6" y1="1375.3" x2="782.6" y2="1415.3" stroke-width="1"/>
<circle cx="957" cy="1403.3" r="18.6" fill="none" stroke-width="1.1"/>
<line x1="941.51" y1="1413.59" x2="967.29" y2="1387.81" stroke-width="1"/>
<line x1="946.71" y1="1418.79" x2="972.49" y2="1393.01" stroke-width="1"/>
<path d="M957,1398.1 L962.2,1403.3 L957,1408.5 L951.8,1403.3 Z" fill="#000" stroke="none"/>
<line x1="928.7" y1="1403.3" x2="968.9" y2="1403.3" stroke-width="1"/>
<line x1="957" y1="1375.3" x2="957" y2="1415.3" stroke-width="1"/>
<circle cx="870" cy="1403.3" r="18.6" fill="none" stroke-width="1.1"/>
<line x1="854.51" y1="1413.59" x2="880.29" y2="1387.81" stroke-width="1"/>
<line x1="859.71" y1="1418.79" x2="885.49" y2="1393.01" stroke-width="1"/>
<path d="M870,1398.1 L875.2,1403.3 L870,1408.5 L864.8,1403.3 Z" fill="#000" stroke="none"/>
<line x1="841.7" y1="1403.3" x2="881.9" y2="1403.3" stroke-width="1"/>
<line x1="870" y1="1375.3" x2="870" y2="1415.3" stroke-width="1"/>
<line x1="870" y1="1347.5" x2="870" y2="1376.5" stroke-width="1"/>
<line x1="870" y1="1427" x2="870" y2="1466" stroke-width="1"/>
<line x1="870" y1="1007" x2="870" y2="1066.7" stroke-width="1"/>
<circle cx="803.9" cy="1142.2" r="19.8" fill="none" stroke-width="1.1"/>
<circle cx="805.4" cy="1141.2" r="18.2" fill="none" stroke-width="1"/>
<line x1="781" y1="1140.9" x2="829.6" y2="1140.9" stroke-width="1"/>
<line x1="805.3" y1="1116.5" x2="805.3" y2="1165.3" stroke-width="1"/>
<g transform="rotate(-8 805.3 1140.9)">
<path d="M802.5,1133.5 L808,1133.5 L808,1138.3 L815.2,1138.3 L815.2,1143.5 L808,1143.5 L808,1148.8 L802.5,1148.8 L802.5,1143.5 L795.3,1143.5 L795.3,1138.3 L802.5,1138.3 Z" fill="none" stroke-width="1.1"/>
</g>
<path d="M833.5,1097.4 L883.6,1097.4 L883.6,1222 Q883.6,1232.3 873,1232.3 L844,1232.3 Q833.5,1232.3 833.5,1222 Z" fill="none" stroke-width="1.2"/>
<line x1="833.5" y1="1102.1" x2="883.6" y2="1102.1" stroke-width="1.1"/>
<line x1="833.5" y1="1116.1" x2="883.6" y2="1116.1" stroke-width="1.1"/>
<line x1="833.5" y1="1151.8" x2="883.6" y2="1151.8" stroke-width="1.1"/>
<line x1="833.5" y1="1161.2" x2="883.6" y2="1161.2" stroke-width="1.1"/>
<path d="M843.4,1161.2 L843.4,1216 Q843.4,1222.6 850,1222.6 L867,1222.6 Q873.4,1222.6 873.4,1216 L873.4,1161.2" fill="none" stroke-width="1.1"/>
<circle cx="858.8" cy="1139.8" r="10.2" fill="none" stroke-width="1.1"/>
<circle cx="858.8" cy="1139.8" r="5" fill="none" stroke-width="1.1"/>
<line x1="870" y1="1108" x2="870" y2="1146.6" stroke-width="1"/>
<line x1="870" y1="1187.9" x2="870" y2="1226.7" stroke-width="1"/>
<line x1="870" y1="1267.3" x2="870" y2="1306.8" stroke-width="1"/>
<path d="M902.8,1097.4 L953.5,1097.4 L953.5,1194 Q953.5,1204.1 943,1204.1 L913,1204.1 Q902.8,1204.1 902.8,1194 Z" fill="none" stroke-width="1.2"/>
<path d="M902.8,1190 Q902.8,1199.5 912,1199.5 L944,1199.5 Q953.5,1199.5 953.5,1190" fill="none" stroke-width="1"/>
<line x1="902.8" y1="1102.1" x2="953.5" y2="1102.1" stroke-width="1.1"/>
<line x1="902.8" y1="1129.2" x2="953.5" y2="1129.2" stroke-width="1.1"/>
<line x1="902.8" y1="1134.2" x2="953.5" y2="1134.2" stroke-width="1.1"/>
<path d="M912.9,1134.2 L912.9,1185 Q912.9,1191 919,1191 L937,1191 Q942.9,1191 942.9,1185 L942.9,1134.2" fill="none" stroke-width="1.1"/>
<rect x="925.3" y="1111.1" width="5.2" height="18.1" stroke-width="1" fill="none"/>
<rect x="828.3" y="1248.1" width="27.1" height="16.9" stroke-width="1.1" fill="none"/>
<line x1="853" y1="1248.1" x2="853" y2="1265" stroke-width="1"/>
<circle cx="847.5" cy="1259.4" r="4" fill="none" stroke-width="1"/>
<rect x="905" y="1259.4" width="78.5" height="37.2" stroke-width="1.1" fill="none"/>
<line x1="731.3" y1="1448.6" x2="731.3" y2="1503.2" stroke-width="1.1"/>
<line x1="1008.6" y1="1448.6" x2="1008.6" y2="1503.2" stroke-width="1.1"/>
<line x1="731.3" y1="1495.7" x2="1008.6" y2="1495.7" stroke-width="1.1"/>
<path d="M731.3,1495.7 L754.7,1491.2 L752.1,1495.7 L754.7,1500.2 Z" fill="#000" stroke="none"/>
<path d="M1008.6,1495.7 L985.2,1500.2 L987.8,1495.7 L985.2,1491.2 Z" fill="#000" stroke="none"/>
<text x="843.7" y="1487.1" font-size="25.8" textLength="38.9" lengthAdjust="spacingAndGlyphs">63,5</text>
<rect x="320.2" y="1198.8" width="44.5" height="31.7" stroke-width="1" rx="3.6" fill="none"/>
<rect x="326.3" y="1204.2" width="32.4" height="20.5" stroke-width="1.1" rx="2.9" fill="none"/>
<line x1="416.9" y1="284" x2="416.9" y2="330.4"/>
</g>
</svg>
</body></html>
